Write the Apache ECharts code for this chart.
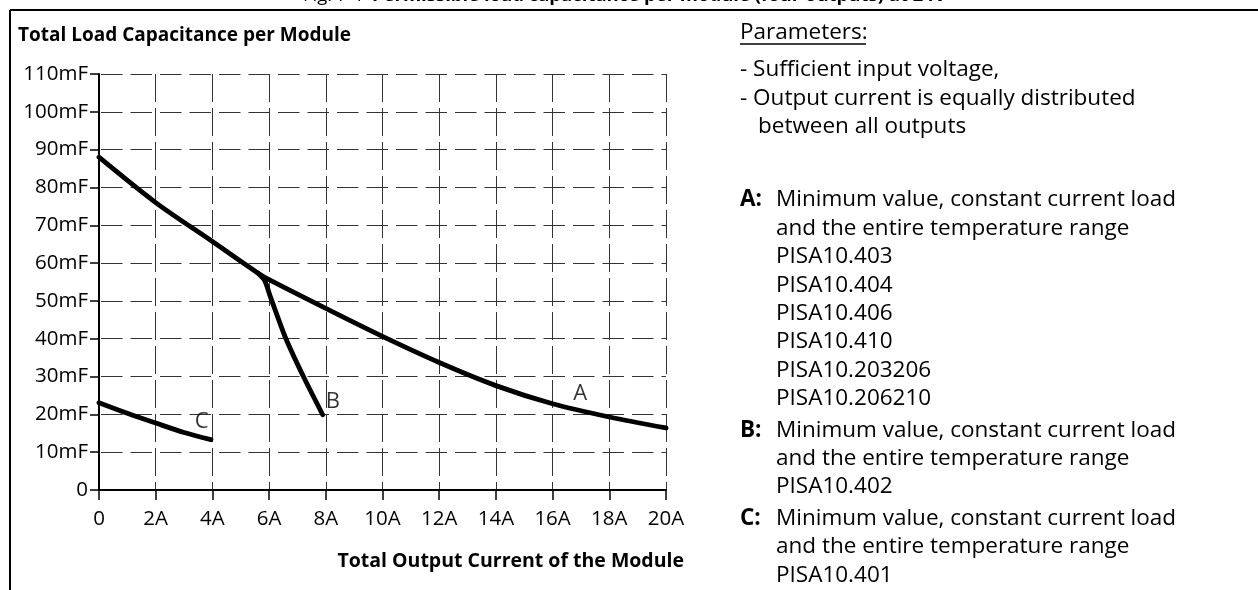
<!DOCTYPE html>
<html>
<head>
<meta charset="utf-8">
<script src="https://cdn.jsdelivr.net/npm/echarts@6/dist/echarts.min.js"></script>
<style>
  html, body { margin: 0; padding: 0; background: #fff; }
  #chart { width: 1258px; height: 590px; }
</style>
</head>
<body>
<div id="chart"></div>
<script>
// curve A / B / C: [current A, capacitance mF]
const curveA = [[0, 88], [2, 76], [4, 65.7], [5.6, 57.4], [6, 55.6], [8, 48], [10, 40.6],
                [12, 33.7], [14, 27.6], [16, 22.8], [18, 19.3], [20, 16.4]];
const curveB = [[5.6, 57.4], [5.85, 55.3], [6.05, 51], [6.56, 40.6], [7.21, 30], [7.89, 19.9]];
const curveC = [[0, 23.1], [1, 20.3], [2, 17.7], [3, 15.2], [3.95, 13.3]];
const curveLabels = [['A', 16.97, 25.4], ['B', 8.25, 23.3], ['C', 3.62, 18.1]];

const paramLines = [['- Sufficient input voltage,', 740], ['- Output current is equally distributed', 740], ['between all outputs', 758]];
const notes = [
  { key: 'A:', lines: ['Minimum value, constant current load', 'and the entire temperature range',
      'PISA10.403', 'PISA10.404', 'PISA10.406', 'PISA10.410', 'PISA10.203206', 'PISA10.206210'] },
  { key: 'B:', lines: ['Minimum value, constant current load', 'and the entire temperature range', 'PISA10.402'] },
  { key: 'C:', lines: ['Minimum value, constant current load', 'and the entire temperature range', 'PISA10.401'] }
];

const FONT = '"Open Sans", "Noto Sans", sans-serif';
const chart = echarts.init(document.getElementById('chart'));

function txt(x, y, text, font, align) {
  return { type: 'text', x: x, y: y, style: { text: text, font: font + ' ' + FONT, fill: '#000', align: align || 'left', verticalAlign: 'middle' } };
}

const graphic = [];
// frame lines
graphic.push({ type: 'line', shape: { x1: 10, y1: 10, x2: 1258, y2: 10 }, style: { stroke: '#000', lineWidth: 2 } });
graphic.push({ type: 'line', shape: { x1: 10, y1: 10, x2: 10, y2: 590 }, style: { stroke: '#000', lineWidth: 2 } });
// caption, cut off at the top edge
graphic.push(txt(364, -4, 'Fig. 7-1', '18.5px', 'right'));
graphic.push(txt(372, -4, 'Permissible load capacitance per module (four outputs) at 24V', 'bold 18.5px'));
graphic.push(txt(18, 36, 'Total Load Capacitance per Module', 'bold 19px'));
graphic.push(txt(684, 561, 'Total Output Current of the Module', 'bold 19.5px', 'right'));

// right hand text block
graphic.push(txt(740, 33, 'Parameters:', '22.5px'));
graphic.push({ type: 'line', shape: { x1: 740, y1: 44, x2: 866, y2: 44 }, style: { stroke: '#000', lineWidth: 1.3 } });
paramLines.forEach((p, i) => graphic.push(txt(p[1], 70 + i * 28.5, p[0], '22.5px')));
let y = 200;
notes.forEach((n, k) => {
  if (k > 0) y += 3;
  graphic.push(txt(740, y, n.key, 'bold 22.5px'));
  n.lines.forEach((t) => {
    graphic.push(txt(776, y, t, '22.5px'));
    y += 28.4;
  });
});

const curveStyle = { color: '#000', width: 4.8, cap: 'round', join: 'round' };

chart.setOption({
  animation: false,
  backgroundColor: '#fff',
  textStyle: { fontFamily: FONT },
  grid: { left: 99, top: 74, width: 567, height: 416 },
  xAxis: {
    type: 'value', min: 0, max: 20, interval: 2,
    axisLine: { lineStyle: { color: '#000', width: 2 } },
    axisTick: { length: 10, lineStyle: { color: '#000', width: 1.5 } },
    axisLabel: { fontSize: 20.5, color: '#000', margin: 19, formatter: v => v === 0 ? '0' : v + 'A' },
    splitLine: { show: true, lineStyle: { color: '#333', width: 1, type: [28, 6] } }
  },
  yAxis: {
    type: 'value', min: 0, max: 110, interval: 10,
    axisLine: { show: true, lineStyle: { color: '#000', width: 2 } },
    axisTick: { show: true, length: 9, lineStyle: { color: '#000', width: 1.5 } },
    axisLabel: { fontSize: 20.5, color: '#000', margin: 11, formatter: v => v === 0 ? '0' : v + 'mF' },
    splitLine: { show: true, lineStyle: { color: '#333', width: 1, type: [21.5, 8], dashOffset: -2 } }
  },
  series: [
    { name: 'A', type: 'line', data: curveA, smooth: 0.3, symbol: 'none', lineStyle: curveStyle, z: 5 },
    { name: 'B', type: 'line', data: curveB, smooth: 0.2, symbol: 'none', lineStyle: curveStyle, z: 5 },
    { name: 'C', type: 'line', data: curveC, smooth: 0.3, symbol: 'none', lineStyle: curveStyle, z: 5 },
    {
      name: 'labels', type: 'scatter', symbolSize: 0, z: 6,
      data: curveLabels.map(d => ({ name: d[0], value: [d[1], d[2]] })),
      label: { show: true, position: 'inside', formatter: p => p.name, fontSize: 22, color: '#000' }
    }
  ],
  graphic: graphic
});
</script>
</body>
</html>
